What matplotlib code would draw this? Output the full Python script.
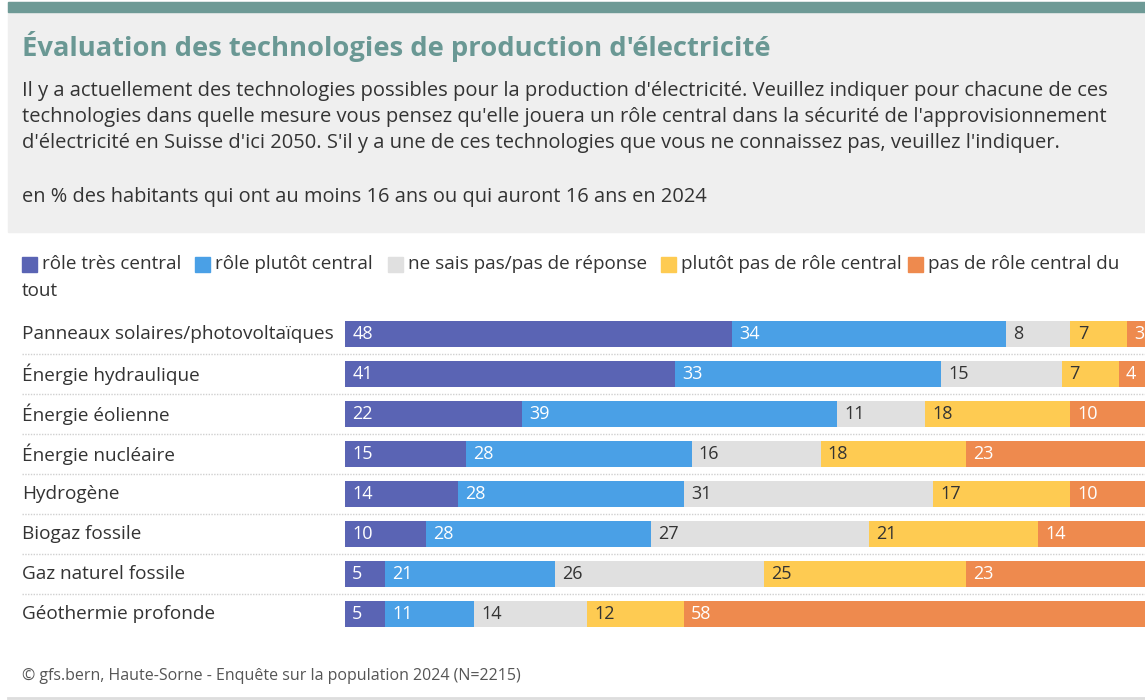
import matplotlib.pyplot as plt
from matplotlib.patches import Rectangle
from matplotlib.lines import Line2D

# ============================
# DONNÉES
# ============================

categories = [
    "Panneaux solaires/photovoltaïques",
    "Énergie hydraulique",
    "Énergie éolienne",
    "Énergie nucléaire",
    "Hydrogène",
    "Biogaz fossile",
    "Gaz naturel fossile",
    "Géothermie profonde",
]

series_names = [
    "rôle très central",
    "rôle plutôt central",
    "ne sais pas/pas de réponse",
    "plutôt pas de rôle central",
    "pas de rôle central du tout",
]

tres_central = [48, 41, 22, 15, 14, 10, 5, 5]
plutot_central = [34, 33, 39, 28, 28, 28, 21, 11]
ne_sais_pas = [8, 15, 11, 16, 31, 27, 26, 14]
plutot_pas = [7, 7, 18, 18, 17, 21, 25, 12]
pas_du_tout = [3, 4, 10, 23, 10, 14, 23, 58]

series = [tres_central, plutot_central, ne_sais_pas, plutot_pas, pas_du_tout]
colors = ["#5A64B4", "#4AA0E6", "#E0E0E0", "#FECB52", "#EE8A4E"]
text_colors = ["white", "white", "#333333", "#333333", "white"]

# ============================
# FIGURE
# ============================

W, H = 1145, 700
plt.rcParams["font.family"] = ["Open Sans", "DejaVu Sans"]
fig = plt.figure(figsize=(W / 100, H / 100), dpi=100)


def fx(x):
    return x / W


def fy(y):
    return 1 - y / H


# en-tête gris + bande verte
fig.patches.append(Rectangle((fx(8), fy(232)), fx(W - 8), (230) / H,
                             transform=fig.transFigure, color="#EFEFEF", zorder=0))
fig.patches.append(Rectangle((fx(8), fy(12)), fx(W - 8), 10 / H,
                             transform=fig.transFigure, color="#6E9A96", zorder=1))

fig.text(fx(22), fy(46), "Évaluation des technologies de production d'électricité",
         fontsize=19.7, fontweight="bold", color="#6A9894", va="center")

sous_titre = [
    "Il y a actuellement des technologies possibles pour la production d'électricité. "
    "Veuillez indiquer pour chacune de ces",
    "technologies dans quelle mesure vous pensez qu'elle jouera un rôle central "
    "dans la sécurité de l'approvisionnement",
    "d'électricité en Suisse d'ici 2050. S'il y a une de ces technologies que vous "
    "ne connaissez pas, veuillez l'indiquer.",
]
for k, ligne in enumerate(sous_titre):
    fig.text(fx(22), fy(91 + 26 * k), ligne, fontsize=14.5, color="#333333", va="center")
fig.text(fx(22), fy(197), "en % des habitants qui ont au moins 16 ans ou qui auront 16 ans en 2024",
         fontsize=14.4, color="#333333", va="center")

# légende
legend_x = [22, 195, 388, 661, 908]
for i, name in enumerate(series_names):
    x0 = legend_x[i]
    fig.patches.append(Rectangle((fx(x0), fy(272)), 15 / W, 15 / H,
                                 transform=fig.transFigure, color=colors[i]))
    label = name
    if i == 4:
        label = "pas de rôle central du"
    fig.text(fx(x0 + 20), fy(264), label, fontsize=13.6, color="#333333", va="center")
fig.text(fx(22), fy(291), "tout", fontsize=13.6, color="#333333", va="center")

# ============================
# BARRES
# ============================

ax = fig.add_axes([fx(345), fy(634), 806 / W, 320 / H])
ax.set_xlim(0, 100)
ax.set_ylim(len(categories) - 0.5, -0.5)
ax.axis("off")

ypos = list(range(len(categories)))
left = [0] * len(categories)
for s, vals in enumerate(series):
    ax.barh(ypos, vals, left=left, height=0.65, color=colors[s], edgecolor="none")
    for i, v in enumerate(vals):
        ax.text(left[i] + 0.9, i, str(v), va="center", ha="left", fontsize=13,
                color=text_colors[s], clip_on=False)
    left = [l + v for l, v in zip(left, vals)]

for i, cat in enumerate(categories):
    yc = 334 + 40 * i
    fig.text(fx(22), fy(yc), cat, fontsize=13.7, color="#333333", va="center")
    if i < len(categories) - 1:
        fig.lines.append(Line2D([fx(22), 1], [fy(yc + 20), fy(yc + 20)],
                                transform=fig.transFigure, color="#D0D0D0",
                                linestyle=(0, (1, 1)), linewidth=1))

# pied de page
fig.text(fx(22), fy(676), "© gfs.bern, Haute-Sorne - Enquête sur la population 2024 (N=2215)",
         fontsize=11.5, color="#555555", va="center")
fig.lines.append(Line2D([fx(8), 1], [fy(698), fy(698)], transform=fig.transFigure,
                        color="#DDDDDD", linewidth=2))

fig.savefig("out.png", dpi=100)
